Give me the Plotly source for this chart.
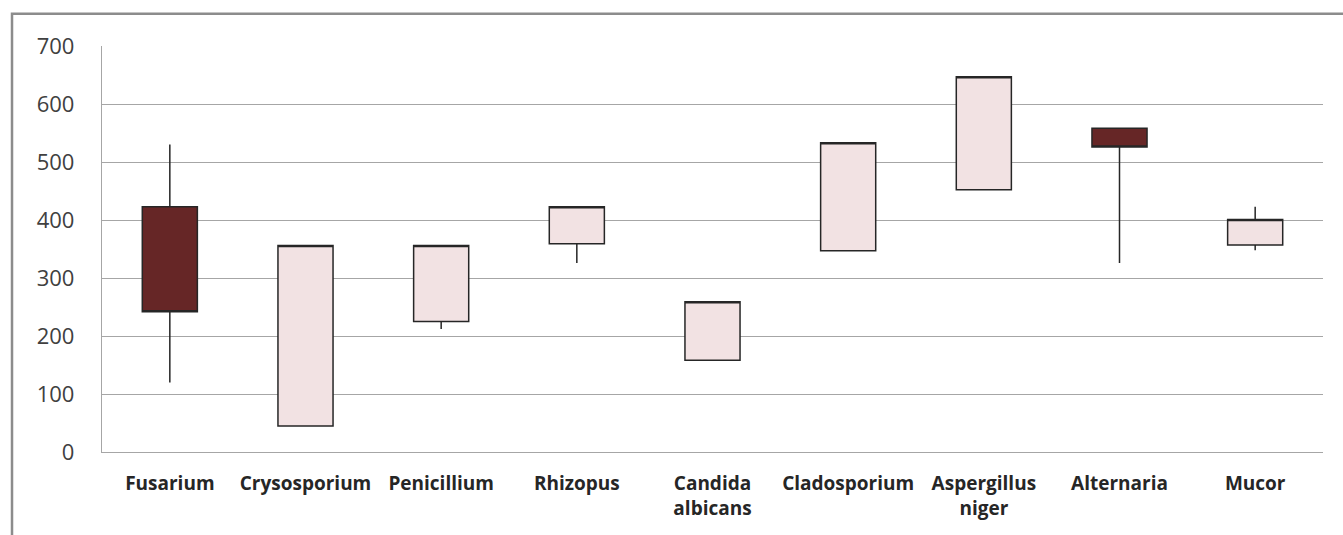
import plotly.graph_objects as go

# Fungal species and their open / high / low / close readings
species = ["Fusarium", "Crysosporium", "Penicillium", "Rhizopus",
           "Candida<br>albicans", "Cladosporium", "Aspergillus<br>niger",
           "Alternaria", "Mucor"]
open_vals = [423, 45, 225, 359, 158, 347, 452, 558, 357]
high_vals = [530, 356, 356, 423, 259, 533, 647, 558, 423]
low_vals = [120, 45, 212, 326, 158, 347, 452, 326, 348]
close_vals = [242, 356, 356, 423, 259, 533, 647, 526, 401]

y_ticks = [0, 100, 200, 300, 400, 500, 600, 700]

fig = go.Figure()
fig.add_trace(go.Candlestick(
    x=species,
    open=open_vals,
    high=high_vals,
    low=low_vals,
    close=close_vals,
    increasing=dict(fillcolor="#F2E2E3", line=dict(color="#262626", width=1.5)),
    decreasing=dict(fillcolor="#662626", line=dict(color="#262626", width=1.5)),
    whiskerwidth=0,
    showlegend=False,
    hoverinfo="x+y",
))

fig.update_layout(
    width=1343,
    height=535,
    margin=dict(l=102, r=20, t=46, b=83),
    paper_bgcolor="white",
    plot_bgcolor="white",
    boxgap=0.42,
    font=dict(family="Open Sans, sans-serif", color="#404040"),
    xaxis=dict(
        type="category",
        rangeslider=dict(visible=False),
        showgrid=False,
        showline=True,
        linecolor="#A6A6A6",
        linewidth=1.3,
        ticks="",
        ticklabelstandoff=14,
        tickfont=dict(size=19, color="#262626", family="Open Sans, sans-serif", weight="bold"),
        fixedrange=True,
    ),
    yaxis=dict(
        range=[0, 700],
        tickvals=y_ticks,
        showgrid=True,
        gridcolor="#A6A6A6",
        gridwidth=1.3,
        zeroline=False,
        showline=True,
        linecolor="#A6A6A6",
        linewidth=1.3,
        ticks="",
        ticklabelstandoff=22,
        tickfont=dict(size=22, color="#404040"),
        fixedrange=True,
    ),
    shapes=[dict(
        type="rect", xref="paper", yref="paper",
        x0=-0.0737, x1=1.2, y0=-0.5, y1=1.0797,
        line=dict(color="#8C8C8C", width=2.5),
        fillcolor="rgba(0,0,0,0)",
        layer="below",
    )],
)

fig.write_html("out.html")
